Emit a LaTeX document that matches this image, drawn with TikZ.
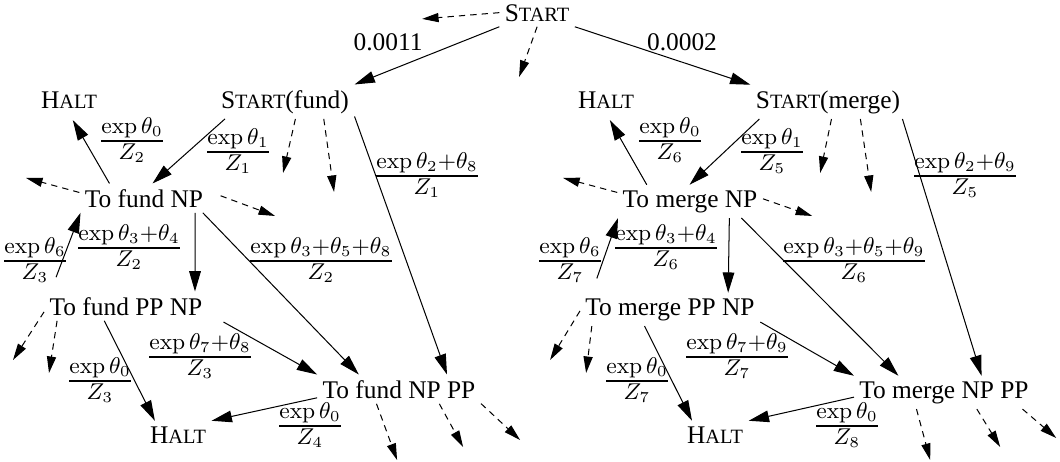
\documentclass[tikz,border=0pt]{standalone}
\usepackage{amsmath}
\usepackage[no-math]{fontspec}
\setmainfont{Liberation Serif}
\usetikzlibrary{arrows.meta}
\newcommand{\kap}[2]{#1{\fontsize{8pt}{9pt}\selectfont #2}}
\newcommand{\vbrok}[2]{\genfrac{}{}{0.8pt}{1}{#1}{#2}}

\begin{document}
\begin{tikzpicture}[scale=1.384,
        st/.style={anchor=base, inner sep=2pt},
        vekt/.style={font=\fontsize{12.8pt}{15pt}\selectfont, inner sep=1pt},
        arr/.style={-{Triangle[length=8pt,width=4.6pt]}},
        dsh/.style={dash pattern=on 2.5pt off 2pt, -{Triangle[length=6.5pt,width=3.6pt]}}]
        \useasboundingbox (0,0) rectangle (10.60,4.61);

        % Noder
        \node[st] (start)  at (5.37,4.40) {\kap{S}{TART}};
        \node[st] (haltA)  at (0.69,3.53) {\kap{H}{ALT}};
        \node[st] (startF) at (2.85,3.53) {\kap{S}{TART}(fund)};
        \node[st] (npF)    at (1.44,2.54) {To fund NP};
        \node[st] (ppnpF)  at (1.26,1.46) {To fund PP NP};
        \node[st] (npppF)  at (3.99,0.63) {To fund NP PP};
        \node[st] (haltB)  at (1.78,0.18) {\kap{H}{ALT}};
        \node[st] (haltC)  at (6.06,3.53) {\kap{H}{ALT}};
        \node[st] (startM) at (8.28,3.53) {\kap{S}{TART}(merge)};
        \node[st] (npM)    at (6.90,2.54) {To merge NP};
        \node[st] (ppnpM)  at (6.70,1.46) {To merge PP NP};
        \node[st] (npppM)  at (9.44,0.63) {To merge NP PP};
        \node[st] (haltD)  at (7.15,0.18) {\kap{H}{ALT}};

        % Løse ender
        \coordinate (s1) at (4.22,4.42);
        \coordinate (s2) at (5.19,3.84);
        \coordinate (f1) at (2.83,2.88);
        \coordinate (f2) at (3.34,2.69);
        \coordinate (f3) at (0.26,2.83);
        \coordinate (f4) at (2.75,2.45);
        \coordinate (f5) at (0.13,1.01);
        \coordinate (f6) at (0.49,0.88);
        \coordinate (f7) at (3.97,0.01);
        \coordinate (f8) at (4.63,0.14);
        \coordinate (f9) at (5.20,0.21);
        \coordinate (m1) at (8.20,2.88);
        \coordinate (m2) at (8.71,2.69);
        \coordinate (m3) at (5.63,2.83);
        \coordinate (m4) at (8.12,2.45);
        \coordinate (m5) at (5.50,1.01);
        \coordinate (m6) at (5.86,0.88);
        \coordinate (m7) at (9.30,0.01);
        \coordinate (m8) at (10.00,0.14);
        \coordinate (m9) at (10.56,0.23);

        % Kanter
        \draw[arr] (start.south west) -- (startF.north east);
        \draw[arr] (start.south east) -- (startM.north west);
        \draw[dsh] (start.west) -- (s1);
        \draw[dsh] (start.south) -- (s2);

        \draw[arr] (startF.196.6) -- (npF.60.3);
        \draw[arr, shorten >=3pt] (npF.157.9) -- (haltA.south);
        \draw[dsh] (startF.-59) -- (f1);
        \draw[dsh] (startF.-24) -- (f2);
        \draw[arr] (startF.-12.6) -- (npppF.17.8);
        \draw[dsh] (npF.175) -- (f3);
        \draw[dsh, shorten <=5pt] (npF.6) -- (f4);
        \draw[arr] (npF.-16.9) -- (ppnpF.12.2);
        \draw[arr] (npF.-14.7) -- (npppF.160.3);
        \draw[arr, shorten <=6pt] (ppnpF.169.5) -- (npF.193);
        \draw[dsh] (ppnpF.184) -- (f5);
        \draw[dsh] (ppnpF.192) -- (f6);
        \draw[arr] (ppnpF.214) -- (haltB.149.5);
        \draw[arr, shorten <=7pt] (ppnpF.-5.3) -- (npppF.north west);
        \draw[arr] (npppF.186.5) -- (haltB.north east);
        \draw[dsh] (npppF.-147.6) -- (f7);
        \draw[dsh] (npppF.-20.9) -- (f8);
        \draw[dsh] (npppF.-10) -- (f9);

        \draw[arr] (startM.194.8) -- (npM.92);
        \draw[arr, shorten >=3pt] (npM.159) -- (haltC.south);
        \draw[dsh] (startM.-79) -- (m1);
        \draw[dsh] (startM.-28) -- (m2);
        \draw[arr] (startM.-13.8) -- (npppM.24.8);
        \draw[dsh] (npM.173.7) -- (m3);
        \draw[dsh] (npM.2.6) -- (m4);
        \draw[arr] (npM.-23.9) -- (ppnpM.16);
        \draw[arr] (npM.-18.3) -- (npppM.160.7);
        \draw[arr, shorten <=6pt] (ppnpM.168.7) -- (npM.193);
        \draw[dsh] (ppnpM.181.9) -- (m5);
        \draw[dsh] (ppnpM.192.9) -- (m6);
        \draw[arr] (ppnpM.213.4) -- (haltD.149.5);
        \draw[arr] (ppnpM.-8.4) -- (npppM.north west);
        \draw[arr] (npppM.183.8) -- (haltD.north east);
        \draw[dsh] (npppM.-149.8) -- (m7);
        \draw[dsh] (npppM.-27.8) -- (m8);
        \draw[dsh] (npppM.-12) -- (m9);

        % Vekter
        \node (p1) at (3.88,4.19) {0.0011};
        \node (p2) at (6.82,4.19) {0.0002};
        \node[vekt] (wA) at (1.32,3.21) {$\vbrok{\exp\theta_0}{Z_2}$};
        \node[vekt] (wB) at (2.38,3.10) {$\vbrok{\exp\theta_1}{Z_1}$};
        \node[vekt] (wC) at (4.27,2.86) {$\vbrok{\exp\theta_2+\theta_8}{Z_1}$};
        \node[vekt] (wD) at (1.29,2.14) {$\vbrok{\exp\theta_3+\theta_4}{Z_2}$};
        \node[vekt] (wE) at (0.35,2.01) {$\vbrok{\exp\theta_6}{Z_3}$};
        \node[vekt] (wF) at (3.21,2.01) {$\vbrok{\exp\theta_3+\theta_5+\theta_8}{Z_2}$};
        \node[vekt] (wG) at (2.00,1.05) {$\vbrok{\exp\theta_7+\theta_8}{Z_3}$};
        \node[vekt] (wH) at (1.00,0.81) {$\vbrok{\exp\theta_0}{Z_3}$};
        \node[vekt] (wI) at (3.10,0.36) {$\vbrok{\exp\theta_0}{Z_4}$};
        \node[vekt] (vA) at (6.70,3.21) {$\vbrok{\exp\theta_0}{Z_6}$};
        \node[vekt] (vB) at (7.72,3.10) {$\vbrok{\exp\theta_1}{Z_5}$};
        \node[vekt] (vC) at (9.65,2.86) {$\vbrok{\exp\theta_2+\theta_9}{Z_5}$};
        \node[vekt] (vD) at (6.66,2.14) {$\vbrok{\exp\theta_3+\theta_4}{Z_6}$};
        \node[vekt] (vE) at (5.70,2.01) {$\vbrok{\exp\theta_6}{Z_7}$};
        \node[vekt] (vF) at (8.54,2.01) {$\vbrok{\exp\theta_3+\theta_5+\theta_9}{Z_6}$};
        \node[vekt] (vG) at (7.37,1.05) {$\vbrok{\exp\theta_7+\theta_9}{Z_7}$};
        \node[vekt] (vH) at (6.37,0.81) {$\vbrok{\exp\theta_0}{Z_7}$};
        \node[vekt] (vI) at (8.47,0.36) {$\vbrok{\exp\theta_0}{Z_8}$};
    \end{tikzpicture}
\end{document}
